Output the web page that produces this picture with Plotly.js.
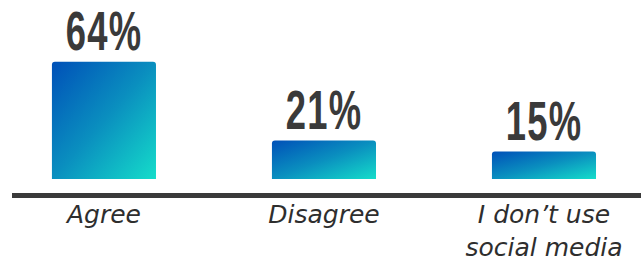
<!DOCTYPE html>
<html>
<head>
<meta charset="utf-8">
<script src="https://cdn.plot.ly/plotly-3.0.1.min.js"></script>
<style>
html,body{margin:0;padding:0;background:#fff;}
#chart{width:644px;height:261px;}
</style>
</head>
<body>
<div id="chart"></div>
<script>
const categories = ["Agree", "Disagree", "I don’t use social media"];
const tickLabels = ["Agree", "Disagree", "I don’t use<br>social media"];
const values = [64, 21, 15];
const valueLabels = ["64%", "21%", "15%"];

const xPos = categories.map((c, i) => i);

const trace = {
  type: "bar",
  x: xPos,
  y: values,
  width: 0.473,
  marker: {color: "#0a8fbf", line: {width: 0}},
  hoverinfo: "skip"
};

const annotations = values.map((v, i) => ({
  x: xPos[i], y: v, xref: "x", yref: "y",
  text: valueLabels[i],
  showarrow: false,
  yanchor: "bottom",
  yshift: -2,
  font: {family: "Liberation Sans, Arial, sans-serif", size: 56, color: "#3a3a3a", weight: 700}
}));

const layout = {
  width: 644, height: 261,
  margin: {l: 12, r: 3, t: 0, b: 68},
  paper_bgcolor: "#fff", plot_bgcolor: "#fff",
  showlegend: false,
  barcornerradius: 3,
  xaxis: {
    range: [-0.418, 2.441],
    tickvals: xPos, ticktext: tickLabels,
    showgrid: false, zeroline: false,
    showline: true, linecolor: "#3a3a3a", linewidth: 5,
    ticks: "", ticklabelstandoff: -5,
    tickfont: {family: "DejaVu Sans, sans-serif", size: 25, color: "#2e2e2e", style: "italic"},
    fixedrange: true
  },
  yaxis: {
    range: [-7.65, 97.8],
    visible: false, showgrid: false, zeroline: false, fixedrange: true
  },
  annotations: annotations
};

Plotly.newPlot("chart", [trace], layout, {staticPlot: true, displayModeBar: false}).then(gd => {
  const svg = gd.querySelector("svg.main-svg");
  let defs = svg.querySelector("defs");
  const ns = "http://www.w3.org/2000/svg";
  const lg = document.createElementNS(ns, "linearGradient");
  lg.setAttribute("id", "barGrad");
  lg.setAttribute("x1", "0"); lg.setAttribute("y1", "0");
  lg.setAttribute("x2", "1"); lg.setAttribute("y2", "1");
  [["0", "#0050b8"], ["0.5", "#0a8fbf"], ["1", "#15ddca"]].forEach(([o, c]) => {
    const s = document.createElementNS(ns, "stop");
    s.setAttribute("offset", o); s.setAttribute("stop-color", c);
    lg.appendChild(s);
  });
  defs.appendChild(lg);
  gd.querySelectorAll("g.trace.bars path").forEach(p => { p.style.fill = "url(#barGrad)"; });
  // condensed look for the value labels
  gd.querySelectorAll("text.annotation-text").forEach(t => {
    t.style.letterSpacing = "2px";
    t.style.transformBox = "fill-box";
    t.style.transformOrigin = "center bottom";
    t.style.transform = "scaleX(0.65)";
  });
});
</script>
</body>
</html>
